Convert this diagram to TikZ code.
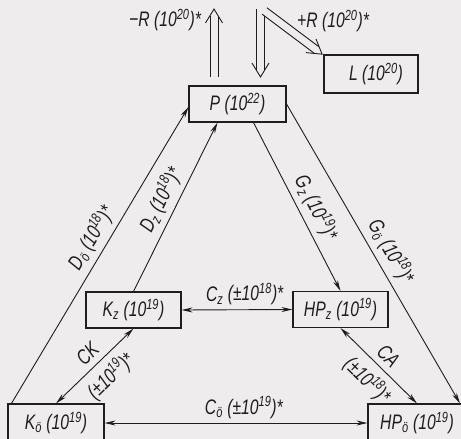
\documentclass[tikz,border=0pt]{standalone}
\usepackage{fontspec}
\setmainfont{Liberation Sans}[FakeStretch=0.75]
\usepackage{xcolor}
\usetikzlibrary{arrows.meta,positioning}
\definecolor{paper}{RGB}{238,236,237}
\definecolor{ink}{RGB}{30,30,30}
\newcommand{\hollowarrow}[3]{\begin{scope}[shift={(#1)},rotate=#2]
  \draw (0,-4) -- (#3-7,-4) (0,4) -- (#3-7,4);
  \draw (#3-14,-8.5) -- (#3,0) -- (#3-14,8.5);\end{scope}}

\begin{document}
\begin{tikzpicture}[x=1pt,y=-1pt,font=\itshape\fontsize{21}{23}\selectfont,ink,line width=0.9pt,
  box/.style={draw,line width=1.1pt,minimum height=36pt,inner sep=2pt},
  flow/.style={-{Stealth[length=11pt,width=5pt]}},
  twoway/.style={{Stealth[length=11pt,width=5pt]}-{Stealth[length=11pt,width=5pt]}},
  lbl/.style={inner sep=1pt,sloped}]
\useasboundingbox (0,0) rectangle (461,439);
\clip (0,0) rectangle (461,439);
\fill[paper] (0,0) rectangle (461,439);
% pools
\node[box,minimum width=97pt] (P) at (237.5,104) {P (10\textsuperscript{22})};
\node[box,minimum width=94pt,minimum height=38pt] (L) at (371,74) {\hspace{10pt}L (10\textsuperscript{20})};
\node[box,minimum width=95pt] (Kz) at (133.5,310) {K\textsubscript{z} (10\textsuperscript{19})};
\node[box,minimum width=95pt] (HPz) at (340.5,309.5) {HP\textsubscript{z} (10\textsuperscript{19})};
\node[box,minimum width=96pt,minimum height=38pt] (Ko) at (56,423) {K\textsubscript{ö} (10\textsuperscript{19})};
\node[box,minimum width=98pt,minimum height=38pt] (HPo) at (417,423) {HP\textsubscript{ö} (10\textsuperscript{19})};
% exchange with the outside
\hollowarrow{214,77}{90}{68}
\draw (256.5,9) -- (256.5,70) (264.5,16) -- (264.5,70);
\draw (252,63) -- (260.5,77) -- (269,63);
\hollowarrow{264.5,11}{-36.87}{72}
\node (mR) at (165,20) {−R (10\textsuperscript{20})*};
\node (pR) at (333,21) {+R (10\textsuperscript{20})*};
% fluxes
\draw[flow] ([xshift=4pt]Ko.north west) -- ([yshift=-3pt]P.west)
  node[lbl,pos=0.53,above=4pt] {D\textsubscript{ö} (10\textsuperscript{18})*};
\draw[flow] (Kz.north) -- ([xshift=-20pt]P.south)
  node[lbl,midway,above=4pt] {D\textsubscript{z} (10\textsuperscript{18})*};
\draw[flow] ([xshift=16pt]P.south) -- (HPz.north)
  node[lbl,pos=0.55,above=4pt] {G\textsubscript{z} (10\textsuperscript{19})*};
\draw[flow] (P.east) -- ([xshift=43pt]HPo.north)
  node[lbl,pos=0.52,above=4pt] {G\textsubscript{ö} (10\textsuperscript{18})*};
\draw[twoway] (Kz.east) -- (HPz.west)
  node[lbl,pos=0.57,above=3pt] {C\textsubscript{z} (±10\textsuperscript{18})*};
\draw[twoway] (Ko.east) -- (HPo.west)
  node[lbl,pos=0.53,above=3pt] {C\textsubscript{ö} (±10\textsuperscript{19})*};
\draw[twoway] (Ko.north) -- (Kz.south)
  node[lbl,pos=0.53,above=5pt] {CK}
  node[lbl,pos=0.54,below=6pt] {(±10\textsuperscript{19})*};
\draw[twoway] (HPz.south) -- (HPo.north)
  node[lbl,pos=0.5,above=5pt] {CA}
  node[lbl,pos=0.52,below=6pt] {(±10\textsuperscript{18})*};
\end{tikzpicture}
\end{document}
